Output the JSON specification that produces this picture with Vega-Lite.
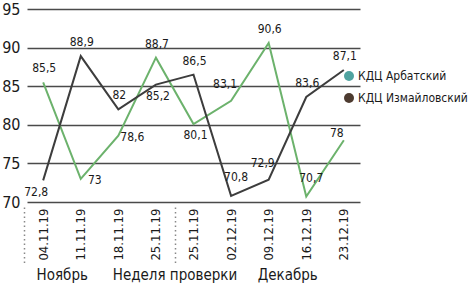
{
  "$schema": "https://vega.github.io/schema/vega-lite/v6.json",
  "width": 333,
  "height": 193,
  "autosize": {"type": "none"},
  "padding": {"left": 27, "top": 9, "right": 116, "bottom": 92},
  "background": "white",
  "config": {
    "font": "Liberation Sans Narrow, Arial Narrow, DejaVu Sans Condensed, sans-serif",
    "view": {"stroke": null},
    "locale": {"number": {"decimal": ",", "thousands": " ", "grouping": [3], "currency": ["", ""]}}
  },
  "data": {
    "values": [
      {"week": "04.11.19", "site": "КДЦ Арбатский", "value": 85.5},
      {"week": "11.11.19", "site": "КДЦ Арбатский", "value": 73},
      {"week": "18.11.19", "site": "КДЦ Арбатский", "value": 78.6},
      {"week": "25.11.19", "site": "КДЦ Арбатский", "value": 88.7},
      {"week": "25.11.19 ", "site": "КДЦ Арбатский", "value": 80.1},
      {"week": "02.12.19", "site": "КДЦ Арбатский", "value": 83.1},
      {"week": "09.12.19", "site": "КДЦ Арбатский", "value": 90.6},
      {"week": "16.12.19", "site": "КДЦ Арбатский", "value": 70.7},
      {"week": "23.12.19", "site": "КДЦ Арбатский", "value": 78},
      {"week": "04.11.19", "site": "КДЦ Измайловский", "value": 72.8},
      {"week": "11.11.19", "site": "КДЦ Измайловский", "value": 88.9},
      {"week": "18.11.19", "site": "КДЦ Измайловский", "value": 82},
      {"week": "25.11.19", "site": "КДЦ Измайловский", "value": 85.2},
      {"week": "25.11.19 ", "site": "КДЦ Измайловский", "value": 86.5},
      {"week": "02.12.19", "site": "КДЦ Измайловский", "value": 70.8},
      {"week": "09.12.19", "site": "КДЦ Измайловский", "value": 72.9},
      {"week": "16.12.19", "site": "КДЦ Измайловский", "value": 83.6},
      {"week": "23.12.19", "site": "КДЦ Измайловский", "value": 87.1}
    ]
  },
  "layer": [
    {
      "encoding": {
        "x": {
          "field": "week", "type": "ordinal",
          "sort": ["04.11.19", "11.11.19", "18.11.19", "25.11.19", "25.11.19 ", "02.12.19", "09.12.19", "16.12.19", "23.12.19"],
          "scale": {"type": "point", "padding": 0.43},
          "axis": {"title": null, "labelAngle": -90, "labelFontSize": 13, "labelPadding": 6, "ticks": false, "domain": false, "grid": false, "labelExpr": "trim(datum.label)", "labelOverlap": false, "labelColor": "#1a1a1a"}
        },
        "y": {
          "field": "value", "type": "quantitative",
          "scale": {"domain": [70, 95], "nice": false, "zero": false},
          "axis": {"title": null, "values": [70, 75, 80, 85, 90, 95], "format": "d", "labelFontSize": 16, "labelPadding": 7, "labelColor": "#1a1a1a", "ticks": false, "domain": false, "grid": true, "gridColor": "#4a4a4a", "gridWidth": 1.5, "gridOpacity": 1}
        }
      },
      "layer": [
        {
          "mark": {"type": "line", "strokeWidth": 2},
          "encoding": {
            "stroke": {"field": "site", "type": "nominal", "scale": {"range": ["#6cb26c", "#3d3d3d"]}, "legend": null}
          }
        },
        {
          "transform": [{"filter": "(datum.site=='КДЦ Арбатский' && indexof(['04.11.19','25.11.19','09.12.19'], datum.week) >= 0) || (datum.site=='КДЦ Измайловский' && indexof(['11.11.19','18.11.19','25.11.19 ','16.12.19','23.12.19'], datum.week) >= 0)"}],
          "mark": {"type": "text", "dx": 1, "dy": -14, "fontSize": 12, "color": "#1a1a1a"},
          "encoding": {"text": {"field": "value", "type": "quantitative", "format": "~r"}}
        },
        {
          "transform": [{"filter": "(datum.site=='КДЦ Арбатский' && datum.week=='02.12.19') || (datum.site=='КДЦ Измайловский' && datum.week=='09.12.19')"}],
          "mark": {"type": "text", "dx": -6, "dy": -17, "fontSize": 12, "color": "#1a1a1a"},
          "encoding": {"text": {"field": "value", "type": "quantitative", "format": "~r"}}
        },
        {
          "transform": [{"filter": "(datum.site=='КДЦ Арбатский' && datum.week=='16.12.19') || (datum.site=='КДЦ Измайловский' && datum.week=='02.12.19')"}],
          "mark": {"type": "text", "dx": 5, "dy": -19, "fontSize": 12, "color": "#1a1a1a"},
          "encoding": {"text": {"field": "value", "type": "quantitative", "format": "~r"}}
        },
        {
          "transform": [{"filter": "(datum.site=='КДЦ Арбатский' && datum.week=='25.11.19 ') || (datum.site=='КДЦ Измайловский' && datum.week=='25.11.19')"}],
          "mark": {"type": "text", "dx": 2, "dy": 11, "fontSize": 12, "color": "#1a1a1a"},
          "encoding": {"text": {"field": "value", "type": "quantitative", "format": "~r"}}
        },
        {
          "transform": [{"filter": "datum.site=='КДЦ Измайловский' && datum.week=='04.11.19'"}],
          "mark": {"type": "text", "dx": -7, "dy": 12, "fontSize": 12, "color": "#1a1a1a"},
          "encoding": {"text": {"field": "value", "type": "quantitative", "format": "~r"}}
        },
        {
          "transform": [{"filter": "datum.site=='КДЦ Арбатский' && indexof(['11.11.19','18.11.19'], datum.week) >= 0"}],
          "mark": {"type": "text", "dx": 14, "dy": 1, "fontSize": 12, "color": "#1a1a1a"},
          "encoding": {"text": {"field": "value", "type": "quantitative", "format": "~r"}}
        },
        {
          "transform": [{"filter": "datum.site=='КДЦ Арбатский' && datum.week=='23.12.19'"}],
          "mark": {"type": "text", "dx": -7, "dy": -7, "fontSize": 12, "color": "#1a1a1a"},
          "encoding": {"text": {"field": "value", "type": "quantitative", "format": "~r"}}
        },
        {
          "mark": {"type": "point", "filled": true, "size": 0},
          "encoding": {
            "color": {
              "field": "site", "type": "nominal",
              "scale": {"domain": ["КДЦ Арбатский", "КДЦ Измайловский"], "range": ["#4fa3a0", "#4d3b30"]},
              "legend": {"orient": "none", "legendX": 316, "legendY": 61, "title": null, "symbolType": "circle", "symbolSize": 100, "symbolOpacity": 1, "labelFontSize": 12, "labelColor": "#1a1a1a", "rowPadding": 10, "labelOffset": 3, "labelLimit": 120}
            }
          }
        }
      ]
    },
    {
      "mark": {"type": "point", "opacity": 0},
      "encoding": {
        "x": {
          "field": "week", "type": "ordinal",
          "sort": ["04.11.19", "11.11.19", "18.11.19", "25.11.19", "25.11.19 ", "02.12.19", "09.12.19", "16.12.19", "23.12.19"],
          "scale": {"type": "point", "padding": 0.43},
          "axis": {
            "orient": "bottom", "title": null,
            "values": ["04.11.19", "11.11.19", "25.11.19 ", "16.12.19"],
            "labelExpr": "datum.value=='11.11.19' ? 'Ноябрь' : datum.value=='16.12.19' ? 'Декабрь' : datum.value=='04.11.19' ? '' : 'Неделя проверки'",
            "labelAngle": 0, "labelFontSize": 15, "labelPadding": 2, "labelColor": "#1a1a1a",
            "tickOffset": -19, "tickSize": 58, "tickDash": [1.5, 3], "tickColor": "#888888", "tickWidth": 1.5,
            "tickOpacity": {"condition": {"test": "datum.value=='04.11.19' || datum.value=='25.11.19 '", "value": 1}, "value": 0},
            "offset": 5, "domain": false, "grid": false, "labelOverlap": false, "labelBound": false, "labelFlush": false
          }
        }
      }
    }
  ],
  "resolve": {"scale": {"x": "independent"}, "axis": {"x": "independent"}}
}
